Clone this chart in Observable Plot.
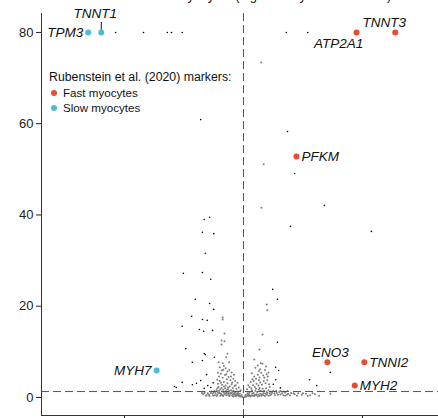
<!DOCTYPE html>
<html><head><meta charset="utf-8">
<script src="https://cdn.jsdelivr.net/npm/d3@7"></script>
<script src="https://cdn.jsdelivr.net/npm/@observablehq/plot@0.6"></script>
<style>
html,body{margin:0;padding:0;background:#fff;overflow:hidden;width:438px;height:418px}
#wrap{position:relative;width:438px;height:418px;overflow:hidden;font-family:"Liberation Sans",Arial,sans-serif}
#chart{position:absolute;left:0;top:0;width:460px}
#chart svg{max-width:none !important;width:460px;height:445px}
#title{position:absolute;left:98px;top:-11px;font-size:13px;line-height:13px;white-space:nowrap;color:#111}
#legend{position:absolute;left:49px;top:70px;color:#111}
#legend .lt{font-size:12.3px;line-height:15px;white-space:nowrap}
#legend .li{font-size:11.6px;line-height:15px;white-space:nowrap;position:relative;padding-left:14px}
#legend .li span{position:absolute;left:2px;top:5px;width:6px;height:6px;border-radius:50%}
</style></head>
<body><div id="wrap"><div id="chart"></div><div id="title"></div><div id="legend"></div></div>
<script>
// ---- data ----
const titleText = "Fast vs. slow myocytes (log2 fold by Wilcoxon test)";
const legendTitle = "Rubenstein et al. (2020) markers:";
const typeNames = ["Fast", "Slow"];
const typeLabels = ["Fast myocytes", "Slow myocytes"];
const fastColor = "#E64B35";
const slowColor = "#4DBBD5";

const markerGenes = ["TPM3", "TNNT1", "TNNT3", "ATP2A1", "PFKM", "ENO3", "TNNI2", "MYH2", "MYH7"];
const markerFC    = [-2.61, -2.39, 2.55, 1.90, 0.89, 1.41, 2.03, 1.87, -1.46];
const markerP     = [80, 80, 80, 80, 52.8, 7.7, 7.7, 2.6, 5.9];
const markerType  = ["Slow", "Slow", "Fast", "Fast", "Fast", "Fast", "Fast", "Fast", "Slow"];

const xTicks = [-2, 0, 2];
const yTicks = [0, 20, 40, 60, 80];
const pThreshold = 1.3;
const xDomain = [-3.395, 3.395];
const yDomain = [-3.95, 84.15];

// significant genes (black)
const sigPoints = [
  [-2.15,80],[-1.68,80],[-1.28,80],[-1.21,80],[-1.03,80],[0.72,80],[1.08,80],
  [0.74,58.3],[-0.72,60.9],[0.86,49.1],[1.36,42.1],[0.79,37.5],[2.15,36.4],
  [-0.66,39.0],[-0.57,39.5],[-0.69,36.2],[-0.50,35.9],[-0.64,31.6],[-1.01,27.2],
  [-0.69,27.4],[-0.55,25.9],[-0.81,21.5],[-0.57,20.6],[-0.50,19.3],[-0.87,17.8],
  [-0.69,17.1],[-0.61,16.9],[-1.03,15.6],[-0.74,14.9],[-0.67,14.5],[-0.52,14.7],
  [-0.97,10.7],[-0.66,9.6],[-0.64,9.4],[-0.49,8.8],[-0.86,7.7],[-0.69,8.1],
  [-0.62,5.0],[-1.03,3.3],[-0.86,2.8],[-0.79,3.1],[-0.72,3.7],[-1.16,2.4],[-1.13,2.2],
  [-0.60,2.6],[-0.55,2.2],[-0.66,2.0],[-0.51,3.2],
  [0.49,23.7],[0.57,21.5],[0.57,12.1],[0.54,6.6],[0.59,5.9],[0.54,3.9],[1.11,3.9],
  [1.23,2.6],[1.46,5.5],[0.50,2.9],[0.62,2.1]
];
// other genes (grey)
const otherPoints = [
  [0.30,73.4],[0.34,51.1],[0.30,41.6],[0.39,20.4],[0.40,19.1],[0.32,13.8],
  [0.27,10.5],[0.18,8.3],[0.29,7.5],[0.42,5.5],
  [-0.35,17.5],[-0.35,17.1],[-0.32,14.0],[-0.37,12.5],[-0.32,12.3],[-0.37,11.6],
  [-0.27,9.6],[-0.29,8.8],[-0.42,7.7],[-0.35,7.5],[-0.24,7.7],
  [-0.02,0.1],[-0.05,0.2],[-0.08,0.3],[-0.10,0.5],[-0.12,0.4],[-0.15,0.7],[-0.18,0.6],
  [-0.20,0.9],[-0.22,0.8],[-0.25,1.0],[-0.28,1.2],[-0.30,0.9],[-0.33,1.1],[-0.36,1.3],
  [-0.40,1.0],[-0.43,1.2],[-0.47,0.9],[-0.50,1.1],[-0.55,1.0],[-0.60,0.9],[-0.65,1.2],[-0.70,1.0],
  [-0.03,0.5],[-0.06,0.8],[-0.09,1.0],[-0.11,1.3],[-0.14,1.1],[-0.17,1.5],[-0.19,1.2],
  [-0.21,1.6],[-0.24,1.4],[-0.26,1.8],[-0.29,1.6],[-0.31,2.0],[-0.34,1.7],[-0.37,2.1],
  [-0.39,1.8],[-0.42,2.3],[-0.45,1.6],[-0.44,2.0],[-0.41,1.5],
  [-0.05,1.6],[-0.08,2.2],[-0.12,1.9],[-0.15,2.5],[-0.18,2.1],[-0.20,2.9],[-0.23,2.4],
  [-0.27,3.1],[-0.30,2.6],[-0.33,3.4],[-0.36,2.8],[-0.40,3.6],[-0.43,3.0],
  [-0.10,3.2],[-0.14,3.6],[-0.17,4.1],[-0.22,3.8],[-0.25,4.5],[-0.28,4.0],[-0.31,4.9],
  [-0.35,4.3],[-0.38,5.2],[-0.41,4.6],
  [-0.20,5.5],[-0.24,6.0],[-0.27,5.7],[-0.30,6.4],[-0.33,6.9],[-0.36,5.9],[-0.40,6.6],
  [-0.22,1.0],[-0.16,0.9],[-0.32,0.7],[-0.44,0.6],[-0.38,0.8],[-0.62,0.5],[-0.68,0.7],[-0.52,0.8],
  [-0.26,0.6],[-0.13,0.6],[-0.07,0.4],[-0.35,0.5],[-0.58,0.6],[-0.48,0.5],
  [-0.04,0.3],[-0.09,0.6],[-0.14,0.3],[-0.19,0.4],[-0.24,0.3],[-0.29,0.5],[-0.34,0.3],
  [-0.39,0.4],[-0.45,0.3],[-0.51,0.4],[-0.57,0.3],[-0.63,0.4],[-0.66,0.9],[-0.54,1.3],
  [-0.49,1.4],[-0.23,0.5],[-0.17,0.2],[-0.11,0.8],[-0.28,0.9],[-0.37,0.6],[-0.42,0.9],
  [-0.13,2.7],[-0.19,3.3],[-0.26,2.2],[-0.33,2.4],[-0.38,3.2],[-0.44,3.9],[-0.29,5.1],
  [-0.21,4.6],[-0.16,5.0],[-0.34,6.1],[-0.43,5.4],
  [0.02,0.1],[0.05,0.2],[0.08,0.3],[0.10,0.4],[0.13,0.5],[0.16,0.4],[0.19,0.6],[0.22,0.7],
  [0.25,0.6],[0.28,0.8],[0.31,0.7],[0.34,0.9],[0.37,0.8],[0.40,1.0],[0.44,0.9],[0.48,1.1],
  [0.52,0.9],[0.56,1.0],[0.60,1.2],[0.65,0.9],[0.70,1.1],[0.75,0.8],[0.80,1.0],[0.86,0.7],
  [0.92,0.9],[0.98,0.6],[1.05,0.8],[1.12,0.5],[1.20,0.7],[1.27,0.4],[1.46,0.8],
  [0.04,0.6],[0.07,0.9],[0.10,1.1],[0.14,1.3],[0.17,1.0],[0.20,1.5],[0.23,1.2],[0.26,1.7],
  [0.29,1.4],[0.32,1.9],[0.35,1.5],[0.38,2.0],[0.42,1.6],[0.46,1.3],[0.50,1.4],[0.55,1.5],
  [0.62,1.4],[0.68,1.3],[0.74,1.4],
  [0.06,1.8],[0.10,2.3],[0.13,2.0],[0.16,2.7],[0.19,2.3],[0.22,3.0],[0.25,2.6],[0.28,3.3],
  [0.31,2.8],[0.34,3.6],[0.37,3.1],[0.40,3.8],[0.43,2.9],
  [0.12,3.4],[0.15,4.0],[0.18,4.6],[0.21,4.1],[0.24,5.0],[0.27,4.4],[0.30,5.4],[0.33,4.8],
  [0.36,6.0],[0.39,5.1],
  [0.20,6.5],[0.24,7.0],[0.28,6.2],[0.32,7.4],
  [0.09,0.7],[0.15,0.8],[0.21,0.5],[0.27,0.4],[0.33,0.5],[0.39,0.6],[0.45,0.5],[0.58,0.6],
  [0.67,0.5],[0.73,0.6],
  [0.03,0.3],[0.07,0.5],[0.12,0.2],[0.18,0.3],[0.24,0.2],[0.30,0.4],[0.36,0.3],[0.42,0.4],
  [0.47,0.7],[0.53,0.5],[0.62,0.7],[0.70,0.4],[0.78,0.5],[0.84,0.9],[0.90,0.4],[1.00,0.9],
  [1.08,0.3],[1.16,0.9],[0.14,1.6],[0.21,1.9],[0.27,2.1],[0.33,1.3],[0.39,1.2],[0.44,2.3],
  [0.08,2.7],[0.17,3.6],[0.26,3.8],[0.35,4.3],[0.41,4.6],[0.14,5.3],[0.26,5.8],[0.38,6.8]
];

// ---- build ----
const markers = markerGenes.map((g, i) => ({gene: g, fc: markerFC[i], p: markerP[i], type: markerType[i]}));
const pick = names => markers.filter(d => names.includes(d.gene));
const labelStyle = {x: "fc", y: "p", text: "gene", fontSize: 13.5, fontStyle: "italic", fill: "#111"};

const chart = Plot.plot({
  width: 460, height: 445,
  marginLeft: 41, marginRight: 15, marginTop: 13, marginBottom: 30,
  style: {fontFamily: "Liberation Sans, Arial, sans-serif", fontSize: "13px", color: "#222", background: "transparent", overflow: "visible", maxWidth: "none"},
  x: {domain: xDomain, ticks: xTicks, tickSize: 4, tickFormat: () => "", label: null},
  y: {domain: yDomain, ticks: yTicks, tickSize: 5, tickPadding: 3, label: null},
  color: {domain: typeNames, range: [fastColor, slowColor]},
  marks: [
    Plot.dot(otherPoints, {x: d => d[0], y: d => d[1], r: 1.0, fill: "#7d7d7d", stroke: null}),
    Plot.dot(sigPoints, {x: d => d[0], y: d => d[1], r: 0.8, fill: "#000", stroke: null}),
    Plot.ruleY([pThreshold], {stroke: "#555", strokeDasharray: "8,4"}),
    Plot.ruleX([0], {stroke: "#555", strokeDasharray: "8,4"}),
    Plot.ruleX([xDomain[0]], {stroke: "#333"}),
    Plot.ruleY([yDomain[0]], {stroke: "#333"}),
    Plot.ruleX(pick(["TNNT1"]), {x: "fc", y1: "p", y2: "p", insetTop: -10, insetBottom: 2, stroke: "#111"}),
    Plot.dot(markers, {x: "fc", y: "p", r: 3, fill: "type", stroke: null}),
    Plot.text(pick(["TPM3", "MYH7"]), {...labelStyle, textAnchor: "end", dx: -5}),
    Plot.text(pick(["PFKM", "TNNI2", "MYH2"]), {...labelStyle, textAnchor: "start", dx: 5}),
    Plot.text(pick(["TNNT3"]), {...labelStyle, dx: -11, dy: -10}),
    Plot.text(pick(["ENO3"]), {...labelStyle, dx: 3, dy: -10}),
    Plot.text(pick(["ATP2A1"]), {...labelStyle, dx: -18, dy: 11}),
    Plot.text(pick(["TNNT1"]), {...labelStyle, dx: -6, dy: -19})
  ]
});
document.getElementById("chart").appendChild(chart);
document.getElementById("title").textContent = titleText;

const lg = document.getElementById("legend");
const lt = document.createElement("div"); lt.className = "lt"; lt.textContent = legendTitle; lg.appendChild(lt);
typeNames.forEach((t, i) => {
  const row = document.createElement("div"); row.className = "li";
  const sw = document.createElement("span"); sw.style.background = i === 0 ? fastColor : slowColor;
  row.appendChild(sw); row.appendChild(document.createTextNode(typeLabels[i]));
  lg.appendChild(row);
});
</script></body></html>
